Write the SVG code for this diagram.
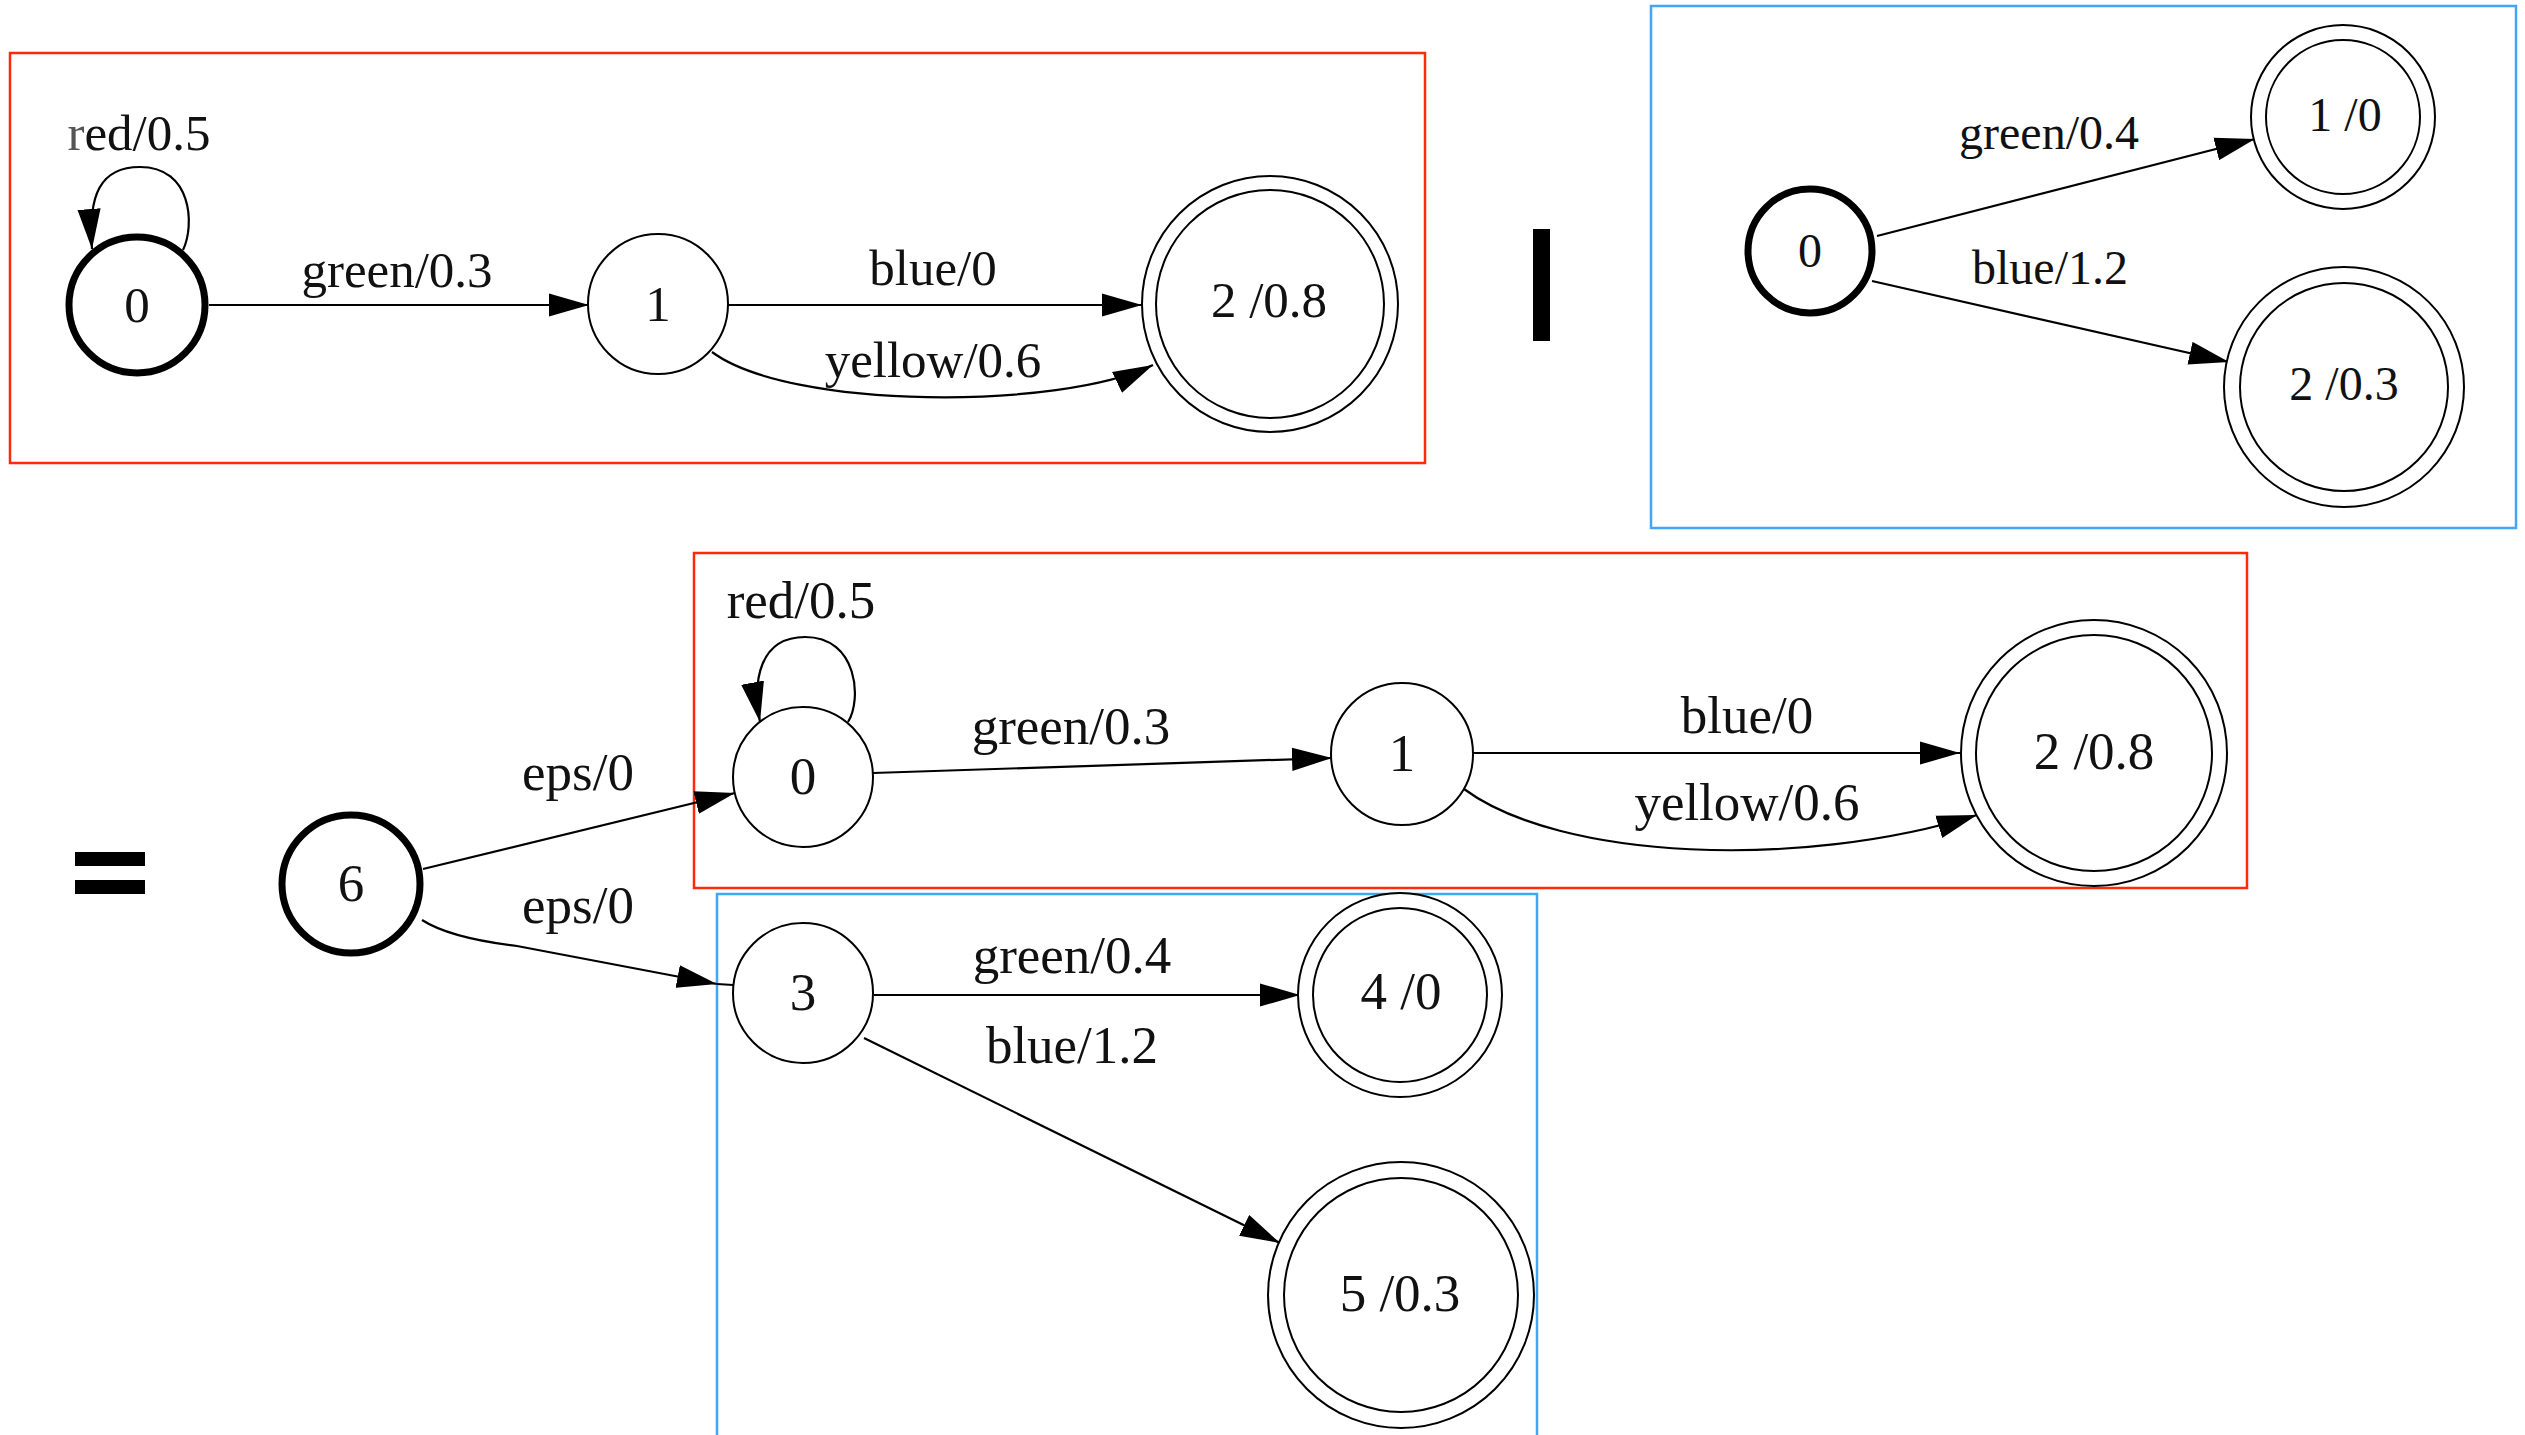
<svg xmlns="http://www.w3.org/2000/svg" width="2525" height="1435" viewBox="0 0 2525 1435">
<defs>
<style>
.n{fill:#fff;stroke:#000;stroke-width:2}
.b{fill:#fff;stroke:#000;stroke-width:7}
.e{fill:none;stroke:#000;stroke-width:2.2}
.t{font-family:"Liberation Serif","Times New Roman",serif;fill:#111;text-anchor:middle}
.s1{font-size:51px}
.s2{font-size:48px}
.s3{font-size:53px}
.rb{fill:none;stroke:#ff2a0a;stroke-width:2.5}
.bb{fill:none;stroke:#42a5f5;stroke-width:2.5}
</style>
<marker id="ah" markerUnits="userSpaceOnUse" markerWidth="40" markerHeight="24" viewBox="0 0 38 22" refX="38" refY="11" orient="auto">
<path d="M0,0 L38,11 L0,22 z" fill="#000"/>
</marker>
</defs>
<rect width="2525" height="1435" fill="#fff"/>

<g id="frames">
<rect class="rb" x="10" y="53" width="1415" height="410"/>
<rect class="bb" x="1651" y="6" width="865" height="522"/>
<rect class="rb" x="694" y="553" width="1553" height="335"/>
<rect class="bb" x="717" y="894" width="820" height="560"/>
</g>

<g id="operators">
<rect x="1533" y="229" width="17" height="112" fill="#000"/>
<rect x="75" y="852" width="70" height="14" fill="#000"/>
<rect x="75" y="880" width="70" height="14" fill="#000"/>
</g>

<g id="connectors">
<path class="e" marker-end="url(#ah)" d="M183,250 C195,225 192,167 140,167 C100,167 88,195 92,249"/>
<path class="e" marker-end="url(#ah)" d="M209,305 L589,305"/>
<path class="e" marker-end="url(#ah)" d="M728,305 L1142,305"/>
<path class="e" marker-end="url(#ah)" d="M712,352 C790,410 1060,410 1153,365"/>
<path class="e" marker-end="url(#ah)" d="M1877,236 L2255,139"/>
<path class="e" marker-end="url(#ah)" d="M1872,281 L2229,362"/>
<path class="e" marker-end="url(#ah)" d="M848,722 C862,700 858,637 805,637 C760,637 752,680 760,722"/>
<path class="e" marker-end="url(#ah)" d="M423,869 L735,793"/>
<path class="e" marker-end="url(#ah)" d="M422,920 Q450,938 517,946 L717,984"/>
<path class="e" d="M717,984 L733,985"/>
<path class="e" marker-end="url(#ah)" d="M873,773 L1332,758"/>
<path class="e" marker-end="url(#ah)" d="M1473,753 L1960,753"/>
<path class="e" marker-end="url(#ah)" d="M1464,789 C1560,860 1800,870 1977,815"/>
<path class="e" marker-end="url(#ah)" d="M874,995 L1300,995"/>
<path class="e" marker-end="url(#ah)" d="M864,1038 L1280,1243"/>
</g>

<g id="labels">
<text class="t s1" x="139" y="150"><tspan fill="#555">r</tspan>ed/0.5</text>
<text class="t s1" x="397" y="287">green/0.3</text>
<text class="t s1" x="933" y="285">blue/0</text>
<text class="t s1" x="933" y="377">yellow/0.6</text>
<text class="t s2" x="2049" y="149">green/0.4</text>
<text class="t s2" x="2050" y="284">blue/1.2</text>
<text class="t s3" x="801" y="618">red/0.5</text>
<text class="t s3" x="578" y="790">eps/0</text>
<text class="t s3" x="578" y="923">eps/0</text>
<text class="t s3" x="1071" y="744">green/0.3</text>
<text class="t s3" x="1747" y="733">blue/0</text>
<text class="t s3" x="1747" y="820">yellow/0.6</text>
<text class="t s3" x="1072" y="973">green/0.4</text>
<text class="t s3" x="1072" y="1063">blue/1.2</text>
</g>

<g id="a0"><circle class="b" cx="137" cy="305" r="68"/><text class="t s1" x="137" y="322">0</text></g>
<g id="a1"><circle class="n" cx="658" cy="304" r="70"/><text class="t s1" x="658" y="321">1</text></g>
<g id="a2"><circle class="n" cx="1270" cy="304" r="128"/><circle class="n" cx="1270" cy="304" r="114"/><text class="t s1" x="1269" y="317">2 /0.8</text></g>

<g id="b0"><circle class="b" cx="1810" cy="251" r="62"/><text class="t s2" x="1810" y="267">0</text></g>
<g id="b1"><circle class="n" cx="2343" cy="117" r="92"/><circle class="n" cx="2343" cy="117" r="77"/><text class="t s2" x="2345" y="131">1 /0</text></g>
<g id="b2"><circle class="n" cx="2344" cy="387" r="120"/><circle class="n" cx="2344" cy="387" r="104"/><text class="t s2" x="2344" y="400">2 /0.3</text></g>

<g id="c6"><circle class="b" cx="351" cy="884" r="69"/><text class="t s3" x="351" y="901">6</text></g>
<g id="c0"><circle class="n" cx="803" cy="777" r="70"/><text class="t s3" x="803" y="794">0</text></g>
<g id="c1"><circle class="n" cx="1402" cy="754" r="71"/><text class="t s3" x="1402" y="771">1</text></g>
<g id="c2"><circle class="n" cx="2094" cy="753" r="133"/><circle class="n" cx="2094" cy="753" r="118"/><text class="t s3" x="2094" y="769">2 /0.8</text></g>
<g id="c3"><circle class="n" cx="803" cy="993" r="70"/><text class="t s3" x="803" y="1010">3</text></g>
<g id="c4"><circle class="n" cx="1400" cy="995" r="102"/><circle class="n" cx="1400" cy="995" r="87"/><text class="t s3" x="1401" y="1009">4 /0</text></g>
<g id="c5"><circle class="n" cx="1401" cy="1295" r="133"/><circle class="n" cx="1401" cy="1295" r="117"/><text class="t s3" x="1400" y="1311">5 /0.3</text></g>
</svg>
